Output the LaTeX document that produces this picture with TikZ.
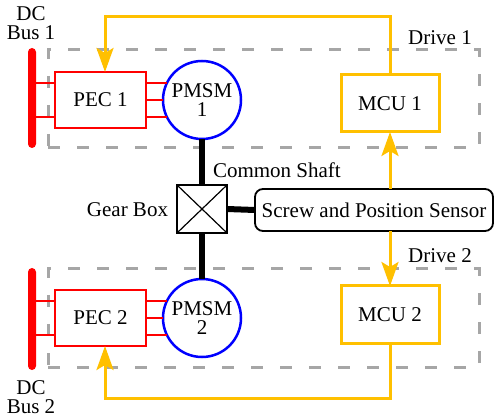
\documentclass[tikz,border=0pt]{standalone}
\usepackage{fontspec}
\setmainfont{Liberation Serif}
\usetikzlibrary{arrows.meta}
\definecolor{ctrl}{HTML}{FFC000}
\definecolor{dashgray}{HTML}{A6A6A6}

\begin{document}
\begin{tikzpicture}[x=1pt,y=-1pt,
  font=\fontsize{21}{19.5}\selectfont,
  every node/.style={inner sep=0pt, outer sep=0pt},
  pec/.style={draw=red, line width=2.3pt, fill=white, minimum width=91pt, minimum height=56pt},
  pmsm/.style={circle, draw=blue, line width=2.5pt, minimum size=78pt, align=center},
  mcu/.style={draw=ctrl, line width=3pt, fill=white, minimum width=98pt, minimum height=57pt},
  busbar/.style={fill=red, rounded corners=4pt, minimum width=8pt, minimum height=100pt},
  drivebox/.style={draw=dashgray, line width=3pt, dash pattern=on 12pt off 17pt,
                   minimum width=431pt, minimum height=98pt},
  phase/.style={red, line width=2.3pt},
  shaft/.style={line width=6pt},
  sig/.style={ctrl, line width=3pt, -{Stealth[length=24pt,width=17pt,inset=5pt]}},
  lbl/.style={align=center}]

\useasboundingbox (0,0) rectangle (496,417);

% drive enclosures
\node[drivebox] (drv1) at (263.5,99) {};
\node[drivebox] (drv2) at (263.5,318) {};

% DC buses, converters and machines
\node[busbar] (bus1) at (32,98) {};
\node[busbar, minimum height=102pt] (bus2) at (32,319) {};
\node[pec] (pec1) at (100.5,100) {PEC 1};
\node[pec] (pec2) at (100.5,318) {PEC 2};
\node[pmsm] (m1) at (202,100) {PMSM\\1};
\node[pmsm] (m2) at (202,318) {PMSM\\2};

% gear box and sensor
\node[draw, line width=2pt, fill=white, minimum width=50pt, minimum height=48pt] (gb) at (202,209) {};
\draw[line width=1.2pt] (gb.north west) -- (gb.south east) (gb.north east) -- (gb.south west);
\node[draw, line width=1.8pt, rounded corners=8pt, minimum width=238pt, minimum height=42pt]
  (sens) at (374,210) {Screw and Position Sensor};

% control units
\node[mcu] (mcu1) at (390,103.5) {MCU 1};
\node[mcu] (mcu2) at (390,314.5) {MCU 2};

% labels
\node[lbl] (dc1) at (31,23) {DC\\Bus 1};
\node[lbl] (dc2) at (31,397) {DC\\Bus 2};
\node[anchor=base] (d1) at (440,45) {Drive 1};
\node[anchor=base] (d2) at (440,263) {Drive 2};
\node[anchor=base west] (cs) at (213,178) {Common Shaft};
\node[anchor=base east] (gl) at (168,217) {Gear Box};

% power wiring
\foreach \p/\b/\m in {pec1/bus1/m1, pec2/bus2/m2} {
  \draw[phase] ([yshift=17pt]\p.west) -- ([yshift=17pt]\p.west -| \b.east);
  \draw[phase] ([yshift=-17pt]\p.west) -- ([yshift=-17pt]\p.west -| \b.east);
  \draw[phase] ([yshift=17pt]\p.east) -- ([yshift=17pt]\p.east -| \m.154);
  \draw[phase] (\p.east) -- (\m.west);
  \draw[phase] ([yshift=-17pt]\p.east) -- ([yshift=-17pt]\p.east -| \m.206);
}

% mechanical shaft
\draw[shaft] (m1.south) -- (gb.north);
\draw[shaft] (gb.south) -- (m2.north);
\draw[shaft] (gb.east) -- (sens.west);

% control signals
\coordinate (t1) at (105,17);
\coordinate (t2) at (105,398);
\draw[sig] (mcu1.north) |- (t1) -- (t1 |- pec1.north);
\draw[sig] (mcu2.south) |- (t2) -- (t2 |- pec2.south);
\draw[sig] (mcu1.south |- sens.north) -- (mcu1.south);
\draw[sig] (mcu2.north |- sens.south) -- (mcu2.north);
\end{tikzpicture}
\end{document}
